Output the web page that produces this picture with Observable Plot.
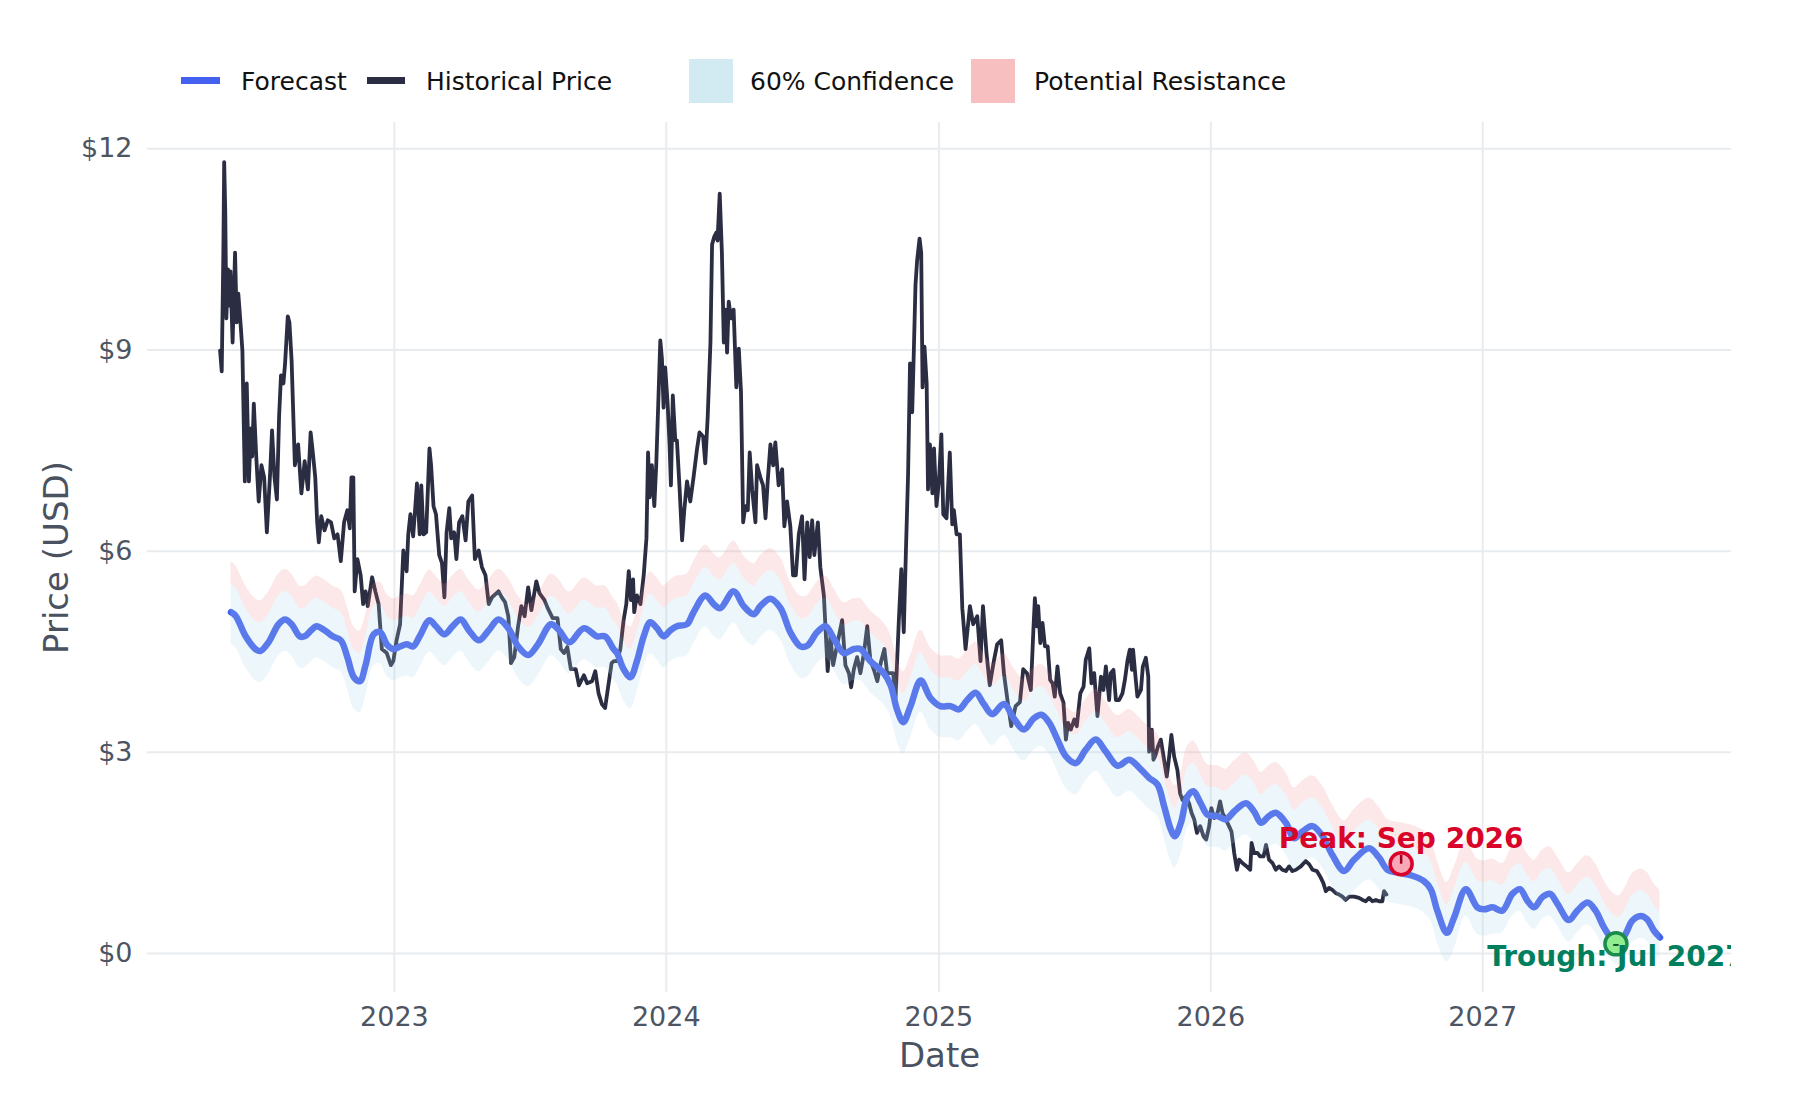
<!DOCTYPE html>
<html>
<head>
<meta charset="utf-8">
<script src="https://cdn.jsdelivr.net/npm/d3@7"></script>
<script src="https://cdn.jsdelivr.net/npm/@observablehq/plot@0.6"></script>
<style>
  html, body { margin: 0; padding: 0; background: #ffffff; }
  body { width: 1800px; height: 1100px; overflow: hidden; font-family: "DejaVu Sans", sans-serif; }
  #legend { position: relative; width: 1800px; height: 110px; }
  #legend .sw { position: absolute; }
  #legend .lab { position: absolute; top: 81px; transform: translateY(-50%); font-size: 25px; line-height: 1; color: #111111; white-space: nowrap; }
  svg g[aria-label="x-axis label"] text, svg g[aria-label="y-axis label"] text { font-size: 34px; fill: #4a5160; }
</style>
</head>
<body>
<div id="legend">
  <div class="sw" style="left:181px; top:77px; width:39px; height:7px; background:#4361ee;"></div>
  <div class="lab" style="left:241px;">Forecast</div>
  <div class="sw" style="left:367px; top:77px; width:38px; height:7px; background:#2b2d42;"></div>
  <div class="lab" style="left:426px;">Historical Price</div>
  <div class="sw" style="left:689px; top:59px; width:44px; height:44px; background:rgba(173,216,230,0.55);"></div>
  <div class="lab" style="left:750px;">60% Confidence</div>
  <div class="sw" style="left:971px; top:59px; width:44px; height:44px; background:rgba(240,128,128,0.5);"></div>
  <div class="lab" style="left:1034px;">Potential Resistance</div>
</div>
<div id="chart"></div>
<script>
// ---------- DATA (decimal years, USD) ----------
const histYear = [
2022.359,2022.365,2022.371,2022.374,2022.378,2022.382,2022.388,2022.393,2022.397,2022.405,
2022.414,2022.420,2022.426,2022.435,2022.441,2022.450,2022.457,2022.465,2022.472,2022.477,
2022.483,2022.492,2022.501,2022.511,2022.521,2022.531,2022.543,2022.550,2022.559,2022.568,
2022.576,2022.583,2022.592,2022.598,2022.608,2022.614,2022.622,2022.634,2022.646,2022.658,
2022.670,2022.682,2022.692,2022.700,2022.709,2022.716,2022.722,2022.731,2022.743,2022.755,
2022.767,2022.779,2022.791,2022.803,2022.815,2022.827,2022.836,2022.842,2022.849,2022.854,
2022.864,2022.876,2022.885,2022.894,2022.902,2022.918,2022.930,2022.942,2022.954,2022.972,
2022.987,2022.996,2023.008,2023.021,2023.033,2023.045,2023.051,2023.059,2023.069,2023.075,
2023.083,2023.093,2023.099,2023.107,2023.117,2023.129,2023.135,2023.144,2023.153,2023.165,
2023.175,2023.184,2023.192,2023.202,2023.209,2023.220,2023.228,2023.238,2023.250,2023.262,
2023.272,2023.286,2023.296,2023.310,2023.322,2023.335,2023.347,2023.359,2023.383,2023.395,
2023.407,2023.419,2023.429,2023.441,2023.455,2023.467,2023.479,2023.492,2023.504,2023.522,
2023.534,2023.552,2023.564,2023.582,2023.600,2023.612,2023.624,2023.636,2023.649,2023.667,
2023.679,2023.697,2023.709,2023.727,2023.739,2023.751,2023.763,2023.775,2023.787,2023.799,
2023.807,2023.819,2023.831,2023.843,2023.853,2023.862,2023.870,2023.878,2023.882,2023.892,
2023.905,2023.917,2023.927,2023.933,2023.939,2023.947,2023.956,2023.963,2023.968,2023.978,
2023.984,2023.990,2023.996,2024.005,2024.012,2024.017,2024.024,2024.033,2024.039,2024.049,
2024.058,2024.066,2024.076,2024.088,2024.100,2024.113,2024.122,2024.135,2024.143,2024.152,
2024.162,2024.168,2024.176,2024.184,2024.188,2024.196,2024.204,2024.211,2024.217,2024.223,
2024.229,2024.237,2024.247,2024.257,2024.266,2024.274,2024.282,2024.290,2024.299,2024.306,
2024.315,2024.327,2024.333,2024.345,2024.355,2024.364,2024.372,2024.382,2024.392,2024.400,
2024.412,2024.425,2024.433,2024.443,2024.455,2024.465,2024.475,2024.486,2024.498,2024.507,
2024.517,2024.526,2024.535,2024.543,2024.556,2024.565,2024.578,2024.592,2024.602,2024.612,
2024.627,2024.645,2024.657,2024.670,2024.678,2024.688,2024.700,2024.712,2024.725,2024.737,
2024.749,2024.761,2024.774,2024.788,2024.800,2024.810,2024.832,2024.841,2024.853,2024.862,
2024.871,2024.879,2024.887,2024.894,2024.902,2024.908,2024.914,2024.920,2024.929,2024.935,
2024.940,2024.947,2024.955,2024.960,2024.967,2024.976,2024.982,2024.991,2025.000,2025.009,
2025.016,2025.028,2025.040,2025.049,2025.055,2025.065,2025.077,2025.086,2025.098,2025.114,
2025.126,2025.141,2025.153,2025.162,2025.175,2025.187,2025.202,2025.214,2025.229,2025.239,
2025.253,2025.266,2025.282,2025.298,2025.310,2025.324,2025.338,2025.348,2025.353,2025.360,
2025.365,2025.373,2025.381,2025.390,2025.400,2025.409,2025.418,2025.426,2025.436,2025.446,
2025.458,2025.467,2025.475,2025.485,2025.498,2025.507,2025.520,2025.532,2025.540,2025.553,
2025.561,2025.571,2025.583,2025.596,2025.605,2025.614,2025.626,2025.632,2025.642,2025.651,
2025.663,2025.675,2025.684,2025.694,2025.702,2025.710,2025.714,2025.724,2025.730,2025.743,
2025.750,2025.761,2025.770,2025.773,2025.783,2025.789,2025.795,2025.806,2025.816,2025.826,
2025.838,2025.847,2025.855,2025.865,2025.877,2025.887,2025.896,2025.908,2025.920,2025.929,
2025.939,2025.949,2025.961,2025.973,2025.983,2025.994,2026.002,2026.012,2026.025,2026.034,
2026.043,2026.055,2026.067,2026.076,2026.086,2026.096,2026.104,2026.116,2026.132,2026.145,
2026.150,2026.159,2026.172,2026.181,2026.194,2026.203,2026.214,2026.227,2026.239,2026.251,
2026.263,2026.276,2026.288,2026.300,2026.313,2026.331,2026.349,2026.362,2026.374,2026.390,
2026.402,2026.414,2026.423,2026.435,2026.447,2026.460,2026.472,2026.484,2026.496,2026.509,
2026.527,2026.545,2026.558,2026.570,2026.582,2026.594,2026.607,2026.619,2026.631,2026.637,
2026.646
];
const histPrice = [
8.99,8.68,10.45,11.80,11.06,9.47,10.20,9.66,10.17,9.11,
10.45,9.41,9.84,9.35,8.99,7.04,8.50,7.04,7.83,7.41,
8.20,7.41,6.74,7.28,7.10,6.28,7.16,7.80,7.10,6.77,
8.01,8.62,8.50,8.80,9.50,9.41,8.84,7.28,7.59,6.86,
7.34,6.92,7.77,7.47,7.10,6.43,6.13,6.52,6.31,6.46,
6.43,6.19,6.25,5.85,6.43,6.61,6.34,7.10,7.10,5.40,
5.88,5.64,5.21,5.40,5.18,5.61,5.40,5.21,4.54,4.48,
4.30,4.36,4.67,4.91,6.01,5.70,6.25,6.55,6.22,6.55,
7.01,6.25,6.98,6.25,6.28,7.53,7.28,6.67,6.55,5.94,
5.82,5.31,6.28,6.64,6.19,6.28,5.88,6.43,6.52,6.16,
6.74,6.83,5.88,6.01,5.76,5.64,5.21,5.31,5.40,5.31,
5.24,5.03,4.33,4.42,4.88,5.18,5.03,5.46,5.12,5.55,
5.37,5.27,5.15,5.00,5.00,4.54,4.48,4.57,4.24,4.24,
4.00,4.15,4.03,4.06,4.21,3.88,3.72,3.66,4.00,4.33,
4.36,4.36,4.54,4.97,5.21,5.70,5.27,5.58,5.09,5.34,
5.21,5.64,6.19,7.47,6.80,7.28,6.67,7.28,7.89,9.14,
8.87,8.14,8.74,8.20,7.59,6.98,8.32,7.65,7.65,6.92,
6.16,6.61,7.04,6.74,7.10,7.53,7.77,7.71,7.31,8.01,
9.11,10.57,10.69,10.75,10.63,11.33,10.45,9.11,9.60,8.96,
9.72,9.47,9.60,8.44,9.02,8.38,6.43,6.67,6.61,7.47,
6.92,6.43,7.28,7.10,6.98,6.49,7.04,7.59,7.28,7.62,
6.98,7.22,6.37,6.74,6.37,5.64,5.64,6.25,6.52,5.58,
6.43,5.91,6.46,5.94,6.43,5.76,5.34,4.21,4.73,4.30,
4.61,4.97,4.30,4.18,3.97,4.24,4.42,4.18,4.48,4.88,
4.36,4.24,4.06,4.36,4.54,4.18,4.18,3.81,4.97,5.73,
4.79,6.01,7.16,8.80,8.07,8.99,9.96,10.33,10.66,10.45,
8.44,9.05,8.50,6.92,7.59,6.86,7.53,6.67,7.04,7.74,
6.55,6.49,7.47,6.40,6.61,6.25,6.25,5.15,4.54,5.18,
4.91,5.03,4.36,5.18,4.48,4.00,4.36,4.61,4.67,4.18,
3.75,3.39,3.69,3.75,4.24,4.18,3.93,4.88,5.30,4.88,
5.18,4.63,4.93,4.58,4.58,4.08,4.03,3.83,4.28,3.88,
3.74,3.19,3.44,3.34,3.49,3.39,3.88,3.98,4.38,4.55,
4.03,4.18,3.54,4.13,3.93,4.28,3.78,4.18,4.23,3.78,
3.78,3.88,4.08,4.38,4.53,4.23,4.53,4.08,3.83,3.93,
4.28,4.41,4.13,3.01,3.34,2.89,2.94,3.09,3.19,2.94,
2.64,2.94,3.26,2.94,2.74,2.39,2.29,2.34,2.24,2.10,
2.00,1.80,1.90,1.75,1.70,1.90,2.17,2.02,2.10,2.27,
2.10,2.00,1.90,1.82,1.50,1.25,1.40,1.35,1.30,1.25,
1.65,1.50,1.50,1.45,1.45,1.62,1.40,1.35,1.25,1.30,
1.25,1.23,1.30,1.23,1.25,1.30,1.38,1.33,1.25,1.23,
1.15,1.05,0.93,0.98,0.95,0.90,0.88,0.85,0.80,0.85,
0.85,0.83,0.80,0.78,0.83,0.78,0.80,0.78,0.78,0.93,
0.88
];
const forecastYear = [
2022.399,2022.417,2022.453,2022.489,2022.507,2022.537,2022.574,2022.598,2022.622,2022.652,
2022.670,2022.694,2022.713,2022.743,2022.773,2022.803,2022.827,2022.851,2022.873,2022.894,
2022.924,2022.948,2022.972,2022.996,2023.021,2023.045,2023.069,2023.093,2023.129,2023.153,
2023.184,2023.214,2023.244,2023.274,2023.310,2023.347,2023.383,2023.419,2023.455,2023.492,
2023.528,2023.576,2023.606,2023.643,2023.697,2023.745,2023.775,2023.806,2023.819,2023.843,
2023.868,2023.892,2023.917,2023.941,2023.966,2023.990,2024.015,2024.039,2024.076,2024.100,
2024.143,2024.174,2024.198,2024.247,2024.284,2024.321,2024.345,2024.382,2024.419,2024.455,
2024.492,2024.517,2024.553,2024.584,2024.614,2024.651,2024.688,2024.712,2024.749,2024.798,
2024.823,2024.847,2024.869,2024.896,2024.933,2024.969,2025.006,2025.043,2025.073,2025.104,
2025.135,2025.165,2025.196,2025.239,2025.275,2025.312,2025.350,2025.377,2025.406,2025.436,
2025.467,2025.504,2025.540,2025.577,2025.614,2025.657,2025.700,2025.737,2025.773,2025.804,
2025.828,2025.853,2025.868,2025.890,2025.914,2025.936,2025.963,2025.988,2026.025,2026.055,
2026.086,2026.129,2026.159,2026.184,2026.214,2026.239,2026.276,2026.306,2026.337,2026.374,
2026.411,2026.447,2026.490,2026.527,2026.582,2026.619,2026.650,2026.699,2026.741,2026.784,
2026.809,2026.833,2026.868,2026.895,2026.938,2026.980,2027.005,2027.036,2027.072,2027.109,
2027.137,2027.164,2027.189,2027.219,2027.248,2027.275,2027.317,2027.348,2027.385,2027.415,
2027.446,2027.477,2027.501,2027.525,2027.550,2027.581,2027.605,2027.630,2027.652
];
const forecastPrice = [
5.09,5.03,4.73,4.54,4.51,4.64,4.91,4.98,4.91,4.73,
4.73,4.82,4.88,4.82,4.73,4.67,4.42,4.12,4.06,4.30,
4.76,4.79,4.61,4.54,4.58,4.61,4.58,4.73,4.97,4.88,
4.76,4.88,4.98,4.82,4.67,4.82,4.98,4.85,4.58,4.45,
4.61,4.91,4.82,4.64,4.85,4.73,4.73,4.54,4.48,4.24,
4.12,4.36,4.73,4.94,4.85,4.73,4.82,4.88,4.91,5.09,
5.34,5.21,5.15,5.40,5.18,5.06,5.18,5.29,5.15,4.79,
4.58,4.59,4.79,4.88,4.70,4.48,4.54,4.54,4.36,4.18,
4.00,3.63,3.45,3.69,4.07,3.81,3.69,3.69,3.64,3.78,
3.89,3.72,3.57,3.72,3.51,3.34,3.51,3.56,3.44,3.19,
2.94,2.84,3.04,3.19,3.01,2.80,2.89,2.77,2.62,2.52,
2.20,1.85,1.75,1.95,2.34,2.42,2.24,2.07,2.05,2.00,
2.12,2.24,2.12,1.95,2.05,2.10,1.95,1.72,1.82,1.90,
1.75,1.47,1.23,1.40,1.57,1.43,1.25,1.20,1.16,1.08,
0.96,0.64,0.31,0.54,0.96,0.69,0.66,0.69,0.64,0.89,
0.96,0.79,0.69,0.84,0.89,0.74,0.50,0.64,0.76,0.64,
0.39,0.21,0.16,0.29,0.49,0.56,0.51,0.34,0.24
];
// 60% confidence band (lower and upper edge)
const confLow = [
4.62,4.56,4.26,4.07,4.04,4.17,4.44,4.51,4.44,4.26,
4.26,4.35,4.41,4.35,4.26,4.20,3.95,3.65,3.59,3.83,
4.29,4.32,4.14,4.07,4.11,4.14,4.11,4.26,4.50,4.41,
4.29,4.41,4.51,4.35,4.20,4.35,4.51,4.38,4.11,3.98,
4.14,4.44,4.35,4.17,4.38,4.26,4.26,4.07,4.01,3.77,
3.65,3.89,4.26,4.47,4.38,4.26,4.35,4.41,4.44,4.62,
4.87,4.74,4.68,4.93,4.71,4.59,4.71,4.82,4.68,4.32,
4.11,4.12,4.32,4.41,4.23,4.01,4.07,4.07,3.89,3.71,
3.53,3.16,2.98,3.22,3.60,3.34,3.22,3.22,3.17,3.31,
3.42,3.25,3.10,3.25,3.04,2.87,3.04,3.09,2.97,2.72,
2.47,2.37,2.57,2.72,2.54,2.33,2.42,2.30,2.15,2.05,
1.73,1.38,1.28,1.48,1.87,1.95,1.77,1.60,1.58,1.53,
1.65,1.77,1.65,1.48,1.58,1.63,1.48,1.25,1.35,1.43,
1.28,1.00,0.76,0.93,1.10,0.96,0.78,0.73,0.69,0.61,
0.49,0.17,-0.12,0.07,0.56,0.29,0.26,0.29,0.31,0.56,
0.63,0.46,0.36,0.51,0.56,0.41,0.17,0.31,0.43,0.31,
0.06,-0.12,-0.17,-0.04,0.16,0.23,0.18,0.01,-0.09
];
const confHigh = [
5.51,5.45,5.15,4.96,4.93,5.06,5.33,5.40,5.33,5.15,
5.15,5.24,5.30,5.24,5.15,5.09,4.84,4.54,4.48,4.72,
5.18,5.21,5.03,4.96,5.00,5.03,5.00,5.15,5.39,5.30,
5.18,5.30,5.40,5.24,5.09,5.24,5.40,5.27,5.00,4.87,
5.03,5.33,5.24,5.06,5.27,5.15,5.15,4.96,4.90,4.66,
4.54,4.78,5.15,5.36,5.27,5.15,5.24,5.30,5.33,5.51,
5.76,5.63,5.57,5.82,5.60,5.48,5.60,5.71,5.57,5.21,
5.00,5.01,5.21,5.30,5.12,4.90,4.96,4.96,4.78,4.60,
4.42,4.05,3.87,4.11,4.49,4.23,4.11,4.11,4.06,4.20,
4.31,4.14,3.99,4.14,3.93,3.76,3.93,3.98,3.86,3.61,
3.36,3.26,3.46,3.61,3.43,3.22,3.31,3.19,3.04,2.94,
2.62,2.27,2.17,2.37,2.76,2.84,2.66,2.49,2.47,2.42,
2.54,2.66,2.54,2.37,2.47,2.52,2.37,2.14,2.24,2.32,
2.17,1.89,1.65,1.82,1.99,1.85,1.67,1.62,1.58,1.50,
1.38,1.06,0.73,0.96,1.36,1.09,1.06,1.09,1.02,1.27,
1.34,1.17,1.07,1.22,1.27,1.12,0.88,1.02,1.14,1.02,
0.77,0.59,0.54,0.67,0.87,0.94,0.89,0.72,0.62
];
// potential resistance zone (from confHigh up to this edge)
const resistanceHigh = [
5.84,5.78,5.48,5.29,5.26,5.39,5.66,5.73,5.66,5.48,
5.48,5.57,5.63,5.57,5.48,5.42,5.17,4.87,4.81,5.05,
5.51,5.54,5.36,5.29,5.33,5.36,5.33,5.48,5.72,5.63,
5.51,5.63,5.73,5.57,5.42,5.57,5.73,5.60,5.33,5.20,
5.36,5.66,5.57,5.39,5.60,5.48,5.48,5.29,5.23,4.99,
4.87,5.11,5.48,5.69,5.60,5.48,5.57,5.63,5.66,5.84,
6.09,5.96,5.90,6.15,5.93,5.81,5.93,6.04,5.90,5.54,
5.33,5.34,5.54,5.63,5.45,5.23,5.29,5.29,5.11,4.93,
4.75,4.38,4.20,4.44,4.82,4.56,4.44,4.44,4.39,4.53,
4.64,4.47,4.32,4.47,4.26,4.09,4.26,4.31,4.19,3.94,
3.69,3.59,3.79,3.94,3.76,3.55,3.64,3.52,3.37,3.27,
2.95,2.60,2.50,2.70,3.09,3.17,2.99,2.82,2.80,2.75,
2.87,2.99,2.87,2.70,2.80,2.85,2.70,2.47,2.57,2.65,
2.50,2.22,1.98,2.15,2.32,2.18,2.00,1.95,1.91,1.83,
1.71,1.39,1.06,1.29,1.68,1.41,1.38,1.41,1.34,1.59,
1.66,1.49,1.39,1.54,1.59,1.44,1.20,1.34,1.46,1.34,
1.09,0.91,0.86,0.99,1.19,1.26,1.21,1.04,0.94
];
const peakPoint = {year: 2026.70, price: 1.34, label: "Peak: Sep 2026"};
const troughPoint = {year: 2027.49, price: 0.145, label: "Trough: Jul 2027"};
const yTicks = [0, 3, 6, 9, 12];
const xTickYears = [2023, 2024, 2025, 2026, 2027];

// ---------- helpers ----------
function toDate(y) {
  const yr = Math.floor(y);
  const a = Date.UTC(yr, 0, 1), b = Date.UTC(yr + 1, 0, 1);
  return new Date(a + (y - yr) * (b - a));
}
if (histYear.length !== histPrice.length) throw new Error("hist length " + histYear.length + " vs " + histPrice.length);
[forecastPrice, confLow, confHigh, resistanceHigh].forEach((a, i) => {
  if (a.length !== forecastYear.length) throw new Error("forecast array " + i + " length " + a.length + " vs " + forecastYear.length);
});

const hist = histYear.map((y, i) => ({date: toDate(y), price: histPrice[i]}));
const fc = forecastYear.map((y, i) => ({date: toDate(y), price: forecastPrice[i], lo: confLow[i], mid: confHigh[i], hi: resistanceHigh[i]}));
const peak = [{date: toDate(peakPoint.year), price: peakPoint.price, label: peakPoint.label}];
const trough = [{date: toDate(troughPoint.year), price: troughPoint.price, label: troughPoint.label}];
const xTicks = xTickYears.map(y => new Date(Date.UTC(y, 0, 1)));

const tickUp = {draw(ctx, size) { const r = Math.sqrt(size / Math.PI); ctx.moveTo(0, 0); ctx.lineTo(0, -r * 0.8); }};
const dash = {draw(ctx, size) { const r = Math.sqrt(size / Math.PI); ctx.moveTo(-r * 0.25, r * 0.1); ctx.lineTo(r * 0.25, r * 0.1); }};

const chart = Plot.plot({
  width: 1800,
  height: 990,
  marginTop: 12,
  marginBottom: 108,
  marginLeft: 147,
  marginRight: 69,
  style: {fontFamily: "DejaVu Sans", background: "white", overflow: "visible"},
  x: {type: "utc", domain: [toDate(2022.092), toDate(2027.915)]},
  y: {domain: [-0.58, 12.39]},
  marks: [
    Plot.gridX(xTicks, {stroke: "#e9ecef", strokeOpacity: 1, strokeWidth: 2}),
    Plot.gridY(yTicks, {stroke: "#e9ecef", strokeOpacity: 1, strokeWidth: 2}),
    Plot.axisX(xTicks, {tickSize: 0, tickPadding: 14, fontSize: 27, fill: "#4d5563", tickFormat: d3.utcFormat("%Y"),
      label: "Date", labelAnchor: "center", labelArrow: "none", labelOffset: 74}),
    Plot.axisY(yTicks, {tickSize: 0, tickPadding: 15, fontSize: 27, fill: "#4d5563", tickFormat: d => "$" + d,
      label: "Price (USD)", labelAnchor: "center", labelArrow: "none", labelOffset: 104}),
    Plot.line(hist, {x: "date", y: "price", stroke: "#2b2d42", strokeWidth: 3.8, strokeLinejoin: "round"}),
    Plot.line(fc, {x: "date", y: "price", stroke: "#4361ee", strokeWidth: 6.5, strokeLinejoin: "round", strokeLinecap: "round", curve: "catmull-rom"}),
    Plot.areaY(fc, {x: "date", y1: "lo", y2: "mid", fill: "#add8e6", fillOpacity: 0.22, curve: "catmull-rom"}),
    Plot.areaY(fc, {x: "date", y1: "mid", y2: "hi", fill: "#f08080", fillOpacity: 0.18, curve: "catmull-rom"}),
    Plot.dot(peak, {x: "date", y: "price", r: 11, fill: "#f9a8b8", stroke: "#d90429", strokeWidth: 3.5}),
    Plot.dot(peak, {x: "date", y: "price", r: 11, symbol: tickUp, fill: "none", stroke: "#a00020", strokeWidth: 2.5}),
    Plot.dot(trough, {x: "date", y: "price", r: 11, fill: "#90ee90", stroke: "#1b8a4b", strokeWidth: 3.5}),
    Plot.dot(trough, {x: "date", y: "price", r: 11, symbol: dash, fill: "none", stroke: "#14532d", strokeWidth: 2}),
    Plot.text(peak, {x: "date", y: "price", text: "label", dy: -16, lineAnchor: "bottom", textAnchor: "middle",
      fill: "#d90429", fontWeight: "bold", fontSize: 28}),
    Plot.text(trough, {x: "date", y: "price", text: "label", dy: 22, lineAnchor: "bottom", textAnchor: "middle",
      fill: "#007f5f", fontWeight: "bold", fontSize: 28, clip: true})
  ]
});
document.getElementById("chart").appendChild(chart);
</script>
</body>
</html>
